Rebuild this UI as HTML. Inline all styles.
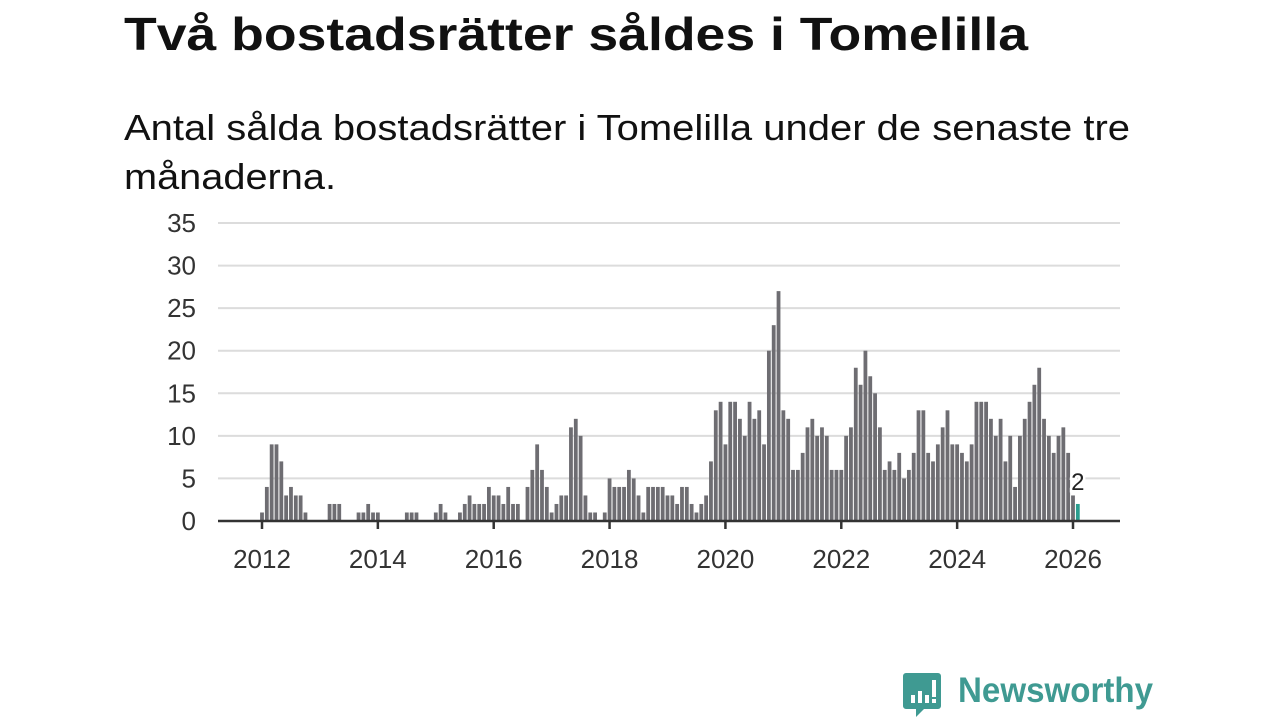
<!DOCTYPE html>
<html><head><meta charset="utf-8">
<style>
html,body{margin:0;padding:0;background:#fff;width:1280px;height:720px;overflow:hidden;}
svg{display:block;font-family:"Liberation Sans","DejaVu Sans",sans-serif;}
</style></head>
<body>
<svg id="chart" width="1280" height="720" viewBox="0 0 1280 720">
  <text x="124" y="50" font-size="46" font-weight="bold" fill="#111" textLength="904" lengthAdjust="spacingAndGlyphs">Två bostadsrätter såldes i Tomelilla</text>
  <text x="124" y="140" font-size="36" fill="#111" textLength="1006" lengthAdjust="spacingAndGlyphs">Antal sålda bostadsrätter i Tomelilla under de senaste tre</text>
  <text x="124" y="189" font-size="36" fill="#111" textLength="212" lengthAdjust="spacingAndGlyphs">månaderna.</text>
  <g id="grid"></g>
  <g id="ylab"></g>
  <g id="bars"></g>
  <g id="xaxis"></g>
  <g>
    <path d="M906 673 h32 a3 3 0 0 1 3 3 v30 a3 3 0 0 1 -3 3 h-14 l-8 8 v-8 h-10 a3 3 0 0 1 -3 -3 v-30 a3 3 0 0 1 3 -3z" fill="#3f9a92"/>
    <rect x="911" y="695" width="4" height="8" fill="#fff"/>
    <rect x="918" y="691" width="4" height="12" fill="#fff"/>
    <rect x="925" y="695" width="4" height="8" fill="#fff"/>
    <rect x="932" y="680" width="4" height="17" fill="#fff"/>
    <rect x="932" y="699" width="4" height="4" fill="#fff"/>
    <text x="958" y="702" font-size="35" font-weight="bold" fill="#3f9a92" textLength="195" lengthAdjust="spacingAndGlyphs">Newsworthy</text>
  </g>
</svg>
<script>
const startYear = 2012;
const yTicks = [0,5,10,15,20,25,30,35];
const xTickYears = [2012,2014,2016,2018,2020,2022,2024,2026];
const values2012 = [1,4,9,9,7,3,4,3,3,1,0,0];
const values2013 = [0,0,2,2,2,0,0,0,1,1,2,1];
const values2014 = [1,0,0,0,0,0,1,1,1,0,0,0];
const values2015 = [1,2,1,0,0,1,2,3,2,2,2,4];
const values2016 = [3,3,2,4,2,2,0,4,6,9,6,4];
const values2017 = [1,2,3,3,11,12,10,3,1,1,0,1];
const values2018 = [5,4,4,4,6,5,3,1,4,4,4,4];
const values2019 = [3,3,2,4,4,2,1,2,3,7,13,14];
const values2020 = [9,14,14,12,10,14,12,13,9,20,23,27];
const values2021 = [13,12,6,6,8,11,12,10,11,10,6,6];
const values2022 = [6,10,11,18,16,20,17,15,11,6,7,6];
const values2023 = [8,5,6,8,13,13,8,7,9,11,13,9];
const values2024 = [9,8,7,9,14,14,14,12,10,12,7,10];
const values2025 = [4,10,12,14,16,18,12,10,8,10,11,8];
const values2026 = [3,2];
const values = [].concat(values2012,values2013,values2014,values2015,values2016,values2017,values2018,values2019,values2020,values2021,values2022,values2023,values2024,values2025,values2026);

const NS = "http://www.w3.org/2000/svg";
const x0 = 262, monthW = (1073-262)/168;
const y0 = 521, yMax = 35, yTop = 223;
function xPos(i){ return x0 + i*monthW; }
function yPos(v){ return y0 - (v/yMax)*(y0-yTop); }
function mk(tag, attrs, parent){ const e=document.createElementNS(NS,tag); for(const k in attrs) e.setAttribute(k,attrs[k]); parent.appendChild(e); return e; }

const grid=document.getElementById('grid'), ylab=document.getElementById('ylab');
yTicks.forEach(t=>{
  if(t>0){
    const l=mk('line',{x1:218,x2:1120,y1:yPos(t),y2:yPos(t),stroke:'#dcdcdc','stroke-width':2},grid);
    
    
  }
  const tx=mk('text',{x:196,y:yPos(t)+9,'font-size':26,fill:'#333','text-anchor':'end'},ylab);
  tx.textContent=t;
  
  
});

const bars=document.getElementById('bars');
values.forEach((v,i)=>{
  if(v<=0) return;
  const last = i===values.length-1;
  const r=mk('rect',{x:xPos(i)-1.9,y:yPos(v),width:3.8,height:y0-yPos(v),fill:last?'#2a9d8f':'#6e6d72'},bars);
  
  
});
const li=values.length-1;
const lbl=mk('text',{x:xPos(li),y:yPos(values[li])-14,'font-size':24,fill:'#222','text-anchor':'middle',stroke:'#fff','stroke-width':5,'paint-order':'stroke'},bars);
lbl.textContent=values[li];



const xa=document.getElementById('xaxis');
const axl=mk('line',{x1:218,x2:1120,y1:y0,y2:y0,stroke:'#333','stroke-width':2.5},xa);


xTickYears.forEach(yr=>{
  const xi=xPos((yr-startYear)*12);
  const tk=mk('line',{x1:xi,x2:xi,y1:y0,y2:y0+8,stroke:'#333','stroke-width':2.5},xa);
  
  
  const t=mk('text',{x:xi,y:568,'font-size':26,fill:'#333','text-anchor':'middle'},xa);
  t.textContent=yr;
  
  
});
</script>
</body></html>
